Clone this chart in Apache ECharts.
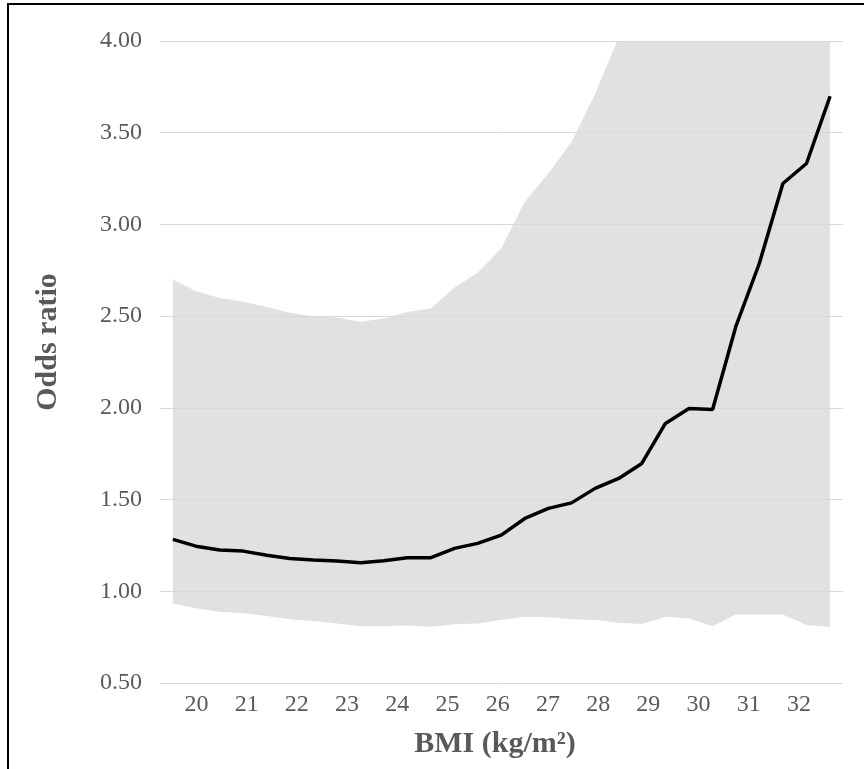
<!DOCTYPE html>
<html>
<head>
<meta charset="utf-8">
<script src="https://cdn.jsdelivr.net/npm/echarts@6/dist/echarts.min.js"></script>
<style>
html,body{margin:0;padding:0;background:#fff;}
#chart{width:864px;height:769px;}
</style>
</head>
<body>
<div id="chart"></div>
<script>
// BMI value of each estimate (x positions)
const bmi = [19.53, 19.99, 20.46, 20.93, 21.40, 21.86, 22.33, 22.80, 23.27, 23.73,
             24.20, 24.67, 25.14, 25.60, 26.07, 26.54, 27.01, 27.47, 27.94, 28.41,
             28.87, 29.34, 29.81, 30.28, 30.74, 31.21, 31.68, 32.15, 32.62];
// Odds ratio (solid line)
const oddsRatio = [1.283, 1.246, 1.225, 1.219, 1.197, 1.179, 1.170, 1.165, 1.155, 1.166,
                   1.183, 1.183, 1.234, 1.261, 1.306, 1.397, 1.452, 1.482, 1.561, 1.615,
                   1.697, 1.915, 1.997, 1.991, 2.441, 2.787, 3.223, 3.332, 3.699];
// 95% CI bounds (grey band)
const lowerCI = [0.934, 0.907, 0.888, 0.880, 0.865, 0.847, 0.838, 0.825, 0.810, 0.810,
                 0.814, 0.807, 0.820, 0.825, 0.843, 0.861, 0.858, 0.847, 0.843, 0.829,
                 0.821, 0.861, 0.852, 0.810, 0.874, 0.874, 0.874, 0.816, 0.807];
const upperCI = [2.700, 2.636, 2.599, 2.578, 2.550, 2.518, 2.500, 2.493, 2.469, 2.487,
                 2.523, 2.542, 2.656, 2.736, 2.869, 3.123, 3.277, 3.450, 3.713, 4.02,
                 4.35, 4.70, 5.10, 5.60, 6.40, 7.20, 8.50, 9.00, 10.50];
// Tick labels
const xTickLabels = [20, 21, 22, 23, 24, 25, 26, 27, 28, 29, 30, 31, 32];
const yTicks = {min: 0.5, max: 4.0, step: 0.5};

const FONT = "'Times New Roman', 'Liberation Serif', 'DejaVu Serif', serif";
const GREY_TEXT = '#595959';

const chart = echarts.init(document.getElementById('chart'), null, {renderer: 'canvas'});

const bandData = bmi.map((x, i) => [x, lowerCI[i], upperCI[i]]);
const lineData = bmi.map((x, i) => [x, oddsRatio[i]]);

function renderBand(params, api) {
  if (params.dataIndex !== 0) return null;
  const top = [], bottom = [];
  for (let i = 0; i < bandData.length; i++) {
    top.push(api.coord([bandData[i][0], bandData[i][2]]));
    bottom.push(api.coord([bandData[i][0], bandData[i][1]]));
  }
  const pts = top.concat(bottom.reverse());
  return {
    type: 'polygon',
    shape: {points: pts},
    style: {fill: '#e1e1e1', stroke: null},
    silent: true
  };
}

chart.setOption({
  animation: false,
  backgroundColor: '#ffffff',
  grid: {left: 160, right: 21, top: 41, bottom: 86, containLabel: false},
  xAxis: {
    type: 'value',
    min: 19.274,
    max: 32.877,
    splitNumber: 14,
    name: 'BMI (kg/m²)',
    nameLocation: 'middle',
    nameGap: 46,
    nameTextStyle: {fontFamily: FONT, fontSize: 30, fontWeight: 'bold', color: GREY_TEXT, padding: [0, 13, 0, 0]},
    axisLine: {show: false},
    axisTick: {show: false},
    splitLine: {show: false},
    axisLabel: {
      customValues: xTickLabels,
      margin: 10,
      fontFamily: FONT,
      fontSize: 24,
      color: GREY_TEXT,
      formatter: v => (Number.isInteger(v) ? String(v) : '')
    }
  },
  yAxis: {
    type: 'value',
    min: yTicks.min,
    max: yTicks.max,
    interval: yTicks.step,
    z: 3,
    axisLine: {show: false},
    axisTick: {show: false},
    splitLine: {show: true, lineStyle: {color: '#d9d9d9', width: 1}},
    axisLabel: {
      margin: 18,
      fontFamily: FONT,
      fontSize: 24,
      color: GREY_TEXT,
      formatter: v => v.toFixed(2)
    }
  },
  series: [
    {
      name: '95% CI',
      type: 'custom',
      data: bandData,
      encode: {x: 0, y: [1, 2]},
      renderItem: renderBand,
      clip: true,
      z: 1,
      silent: true
    },
    {
      name: 'Odds ratio',
      type: 'line',
      data: lineData,
      symbol: 'none',
      z: 5,
      lineStyle: {color: '#000000', width: 3.5},
      clip: true
    }
  ],
  graphic: [
    {
      type: 'text',
      x: 48,
      y: 342,
      rotation: Math.PI / 2,
      style: {
        text: 'Odds ratio',
        fill: GREY_TEXT,
        font: "bold 30px 'Times New Roman', 'Liberation Serif', serif",
        textAlign: 'center',
        textVerticalAlign: 'middle'
      }
    },
    {
      type: 'rect',
      shape: {x: 8, y: 4, width: 1000, height: 1000},
      style: {fill: 'none', stroke: '#000000', lineWidth: 2},
      silent: true
    }
  ]
});
</script>
</body>
</html>
